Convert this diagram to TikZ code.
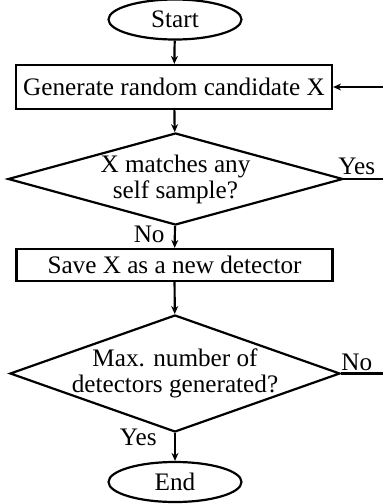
\documentclass[tikz,border=0pt]{standalone}
\usepackage{fontspec}
\setmainfont{Liberation Serif}
\usetikzlibrary{shapes.geometric, arrows.meta}
\begin{document}
\begin{tikzpicture}[
	x=0.5pt, y=-0.5pt,
	every node/.style={font=\fontsize{12.6pt}{13pt}\selectfont},
	terminal/.style={
		ellipse, draw=black, line width=1.1pt,
		minimum width=66.5pt, minimum height=20pt, inner sep=0pt
	},
	block/.style={
		rectangle, draw=black, line width=1.1pt,
		minimum width=158pt, inner sep=0pt
	},
	decision/.style={
		diamond, draw=black, line width=1.1pt, inner sep=0pt
	},
	answer/.style={inner sep=0pt},
	line/.style={draw, line width=1.1pt, -{Stealth[length=4pt, width=3.5pt]}},
	]
	\useasboundingbox (0,0) rectangle (383,504);

	\node [terminal] (start) at (175,19.5) {Start};
	\node [block, minimum height=22pt] (gen) at (174,87) {Generate random candidate X};
	\node [decision, minimum width=167.5pt, minimum height=46pt] (match) at (175.5,179) {};
	\node [align=center, inner sep=0pt] (matchtext) at (match) {X matches any\\self sample?};
	\node [block, minimum height=16pt] (save) at (174.5,265) {Save X as a new detector};
	\node [decision, minimum width=165pt, minimum height=58.5pt] (maxnum) at (175,373.5) {};
	\node [align=center, inner sep=0pt] (maxnumtext) at (maxnum) {Max. number of\\detectors generated?};
	\node [terminal] (end) at (175,482) {End};

	% loop back to the generator
	\coordinate (back) at (383,87);
	\coordinate (yesout) at (383,179);
	\coordinate (noout) at (383,373.5);

	\path [line] (start) -- (gen);
	\path [line] (gen) -- (match);
	\path [line] (match) -- (save);
	\path [line] (save) -- (maxnum);
	\path [line] (maxnum) -- (end);
	\path [line] (back) -- (gen.east);
	\draw [line width=1.1pt] (match.east) -- (yesout);
	\draw [line width=1.1pt] (maxnum.east) -- (noout);

	\node [answer, anchor=base west] (yes1) at (338,174) {Yes};
	\node [answer, anchor=base east] (no1) at (165,242) {No};
	\node [answer, anchor=base west] (no2) at (341,370) {No};
	\node [answer, anchor=base east] (yes2) at (157,445) {Yes};
\end{tikzpicture}
\end{document}
